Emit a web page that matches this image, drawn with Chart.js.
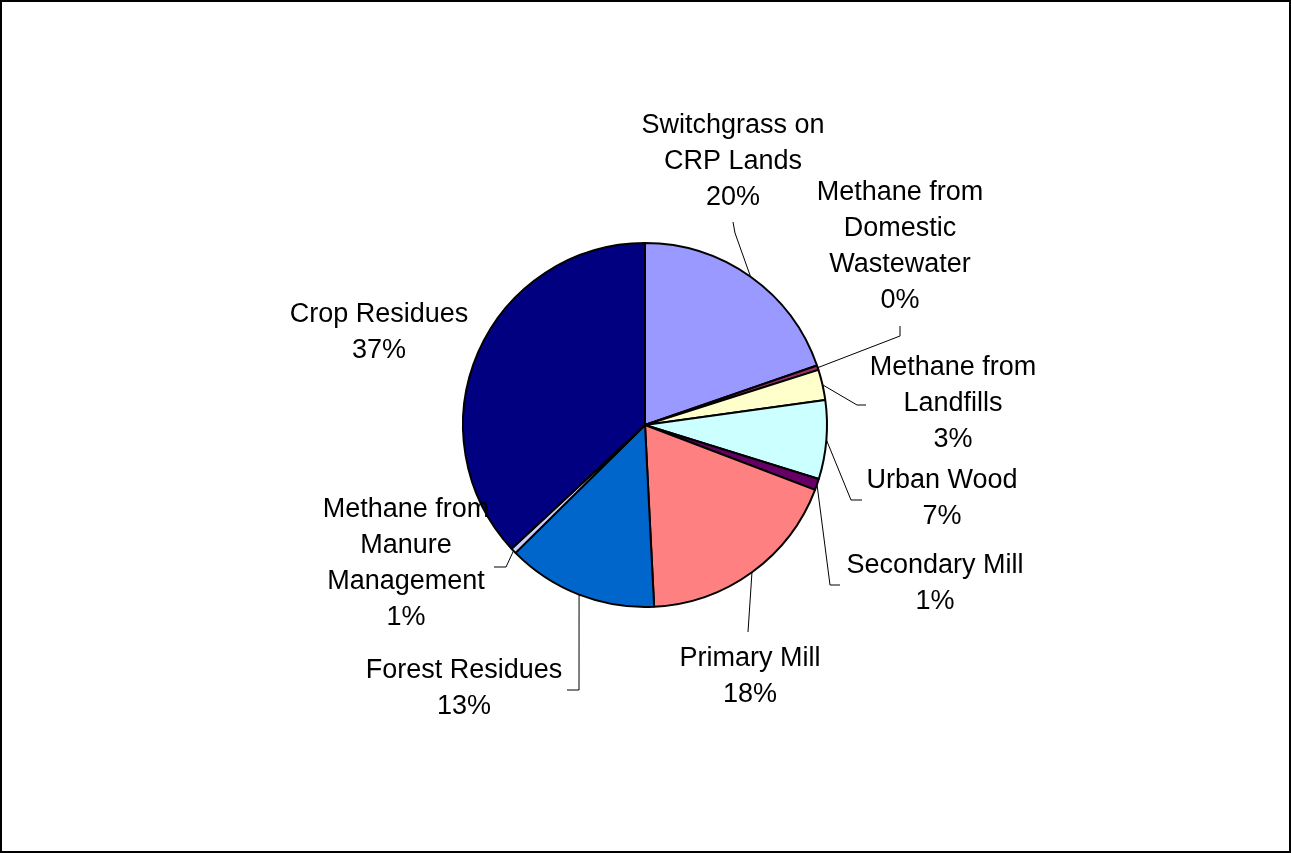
<!DOCTYPE html>
<html>
<head>
<meta charset="utf-8">
<script src="https://cdn.jsdelivr.net/npm/chart.js@4"></script>
<style>
  html, body { margin: 0; padding: 0; background: #fff; }
  canvas { display: block; }
</style>
</head>
<body>
<canvas id="pie" width="1291" height="853"></canvas>
<script>
// ----- data ----- //
const categories = [
  ["Switchgrass on", "CRP Lands"],
  ["Methane from", "Domestic", "Wastewater"],
  ["Methane from", "Landfills"],
  ["Urban Wood"],
  ["Secondary Mill"],
  ["Primary Mill"],
  ["Forest Residues"],
  ["Methane from", "Manure", "Management"],
  ["Crop Residues"],
];
const shares = [19.7, 0.4, 2.7, 7.0, 1.0, 18.4, 13.4, 0.5, 36.9];

const sliceColors = [
  "#9999FF",
  "#993366",
  "#FFFFCC",
  "#CCFFFF",
  "#660066",
  "#FF8080",
  "#0066CC",
  "#CCCCFF",
  "#000080",
];

// label text block (center x, first line y) and leader elbow points
const labelLayout = [
  { x: 733, y: 126, leader: [[735, 233], [733, 222]] },
  { x: 900, y: 193, leader: [[900, 336], [900, 326]] },
  { x: 953, y: 368, leader: [[857, 405], [866, 405]] },
  { x: 942, y: 481, leader: [[851, 500], [862, 500]] },
  { x: 935, y: 566, leader: [[830, 585], [840, 585]] },
  { x: 750, y: 659, leader: [[748, 632]] },
  { x: 464, y: 671, leader: [[579, 690], [567, 690]] },
  { x: 406, y: 510, leader: [[506, 567], [494, 567]] },
  { x: 379, y: 315, leader: null },
];

const FONT = "27px 'Liberation Sans', Arial, sans-serif";
const LINE_H = 36;

const labelPlugin = {
  id: "pieLabels",
  afterDatasetsDraw(chart) {
    const ctx = chart.ctx;
    const meta = chart.getDatasetMeta(0);
    const total = shares.reduce((s, v) => s + v, 0);
    ctx.save();
    meta.data.forEach((arc, i) => {
      const p = arc.getProps(["x", "y", "startAngle", "endAngle", "outerRadius"], true);
      const mid = (p.startAngle + p.endAngle) / 2;
      const ax = p.x + Math.cos(mid) * p.outerRadius;
      const ay = p.y + Math.sin(mid) * p.outerRadius;
      const lay = labelLayout[i];
      if (lay.leader) {
        ctx.strokeStyle = "#000";
        ctx.lineWidth = 1;
        ctx.beginPath();
        ctx.moveTo(ax, ay);
        lay.leader.forEach((pt) => ctx.lineTo(pt[0], pt[1]));
        ctx.stroke();
      }
      const lines = categories[i].concat([Math.round((shares[i] / total) * 100) + "%"]);
      ctx.fillStyle = "#000";
      ctx.font = FONT;
      ctx.textAlign = "center";
      ctx.textBaseline = "middle";
      lines.forEach((t, k) => ctx.fillText(t, lay.x, lay.y + k * LINE_H));
    });
    ctx.restore();
  },
  afterDraw(chart) {
    const ctx = chart.ctx;
    ctx.save();
    ctx.strokeStyle = "#000";
    ctx.lineWidth = 2;
    ctx.strokeRect(1, 1, chart.width - 2, chart.height - 2);
    ctx.restore();
  },
};

new Chart(document.getElementById("pie").getContext("2d"), {
  type: "pie",
  data: {
    labels: categories,
    datasets: [
      {
        data: shares,
        backgroundColor: sliceColors,
        borderColor: "#000",
        borderWidth: 2,
      },
    ],
  },
  options: {
    responsive: false,
    animation: false,
    layout: {
      padding: { top: 242, bottom: 245, left: 300, right: 301 },
    },
    plugins: {
      legend: { display: false },
      tooltip: { enabled: false },
    },
  },
  plugins: [labelPlugin],
});
</script>
</body>
</html>
